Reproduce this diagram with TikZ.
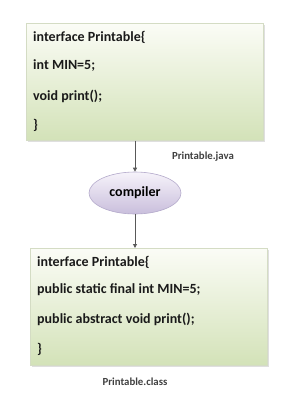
\documentclass[tikz,border=0pt]{standalone}
\usepackage{fontspec}
\setmainfont{Carlito}
\usetikzlibrary{shapes.geometric,arrows.meta,shadows}
\definecolor{gtop}{HTML}{FBFCF6}
\definecolor{gbot}{HTML}{D3E2B8}
\definecolor{gline}{HTML}{D4DCC4}
\definecolor{ptop}{HTML}{F6F3FA}
\definecolor{pbot}{HTML}{C9BEDC}
\definecolor{pline}{HTML}{B4AACB}
\definecolor{txt}{HTML}{1A1A1A}
\begin{document}
\begin{tikzpicture}[x=1pt,y=-1pt,
  codebox/.style={draw=gline,line width=0.6pt,top color=gtop,bottom color=gbot,
    drop shadow={shadow xshift=1.2pt,shadow yshift=-1.2pt,opacity=0.25}},
  codetext/.style={anchor=west,font=\bfseries\fontsize{14}{16}\selectfont,text=txt,inner sep=0pt},
  filelabel/.style={font=\bfseries\fontsize{10.8}{12}\selectfont,text=black!75,inner sep=0pt},
  oval/.style={ellipse,draw=pline,line width=0.6pt,top color=ptop,bottom color=pbot,
    minimum width=92pt,minimum height=42pt,inner sep=0pt,font=\bfseries\fontsize{14}{16}\selectfont},
  conn/.style={draw=black!65,line width=0.9pt,-{Triangle[length=4pt,width=4pt]}}]
\useasboundingbox (0,0) rectangle (292,399);
\fill[white] (0,0) rectangle (292,399);
% top box
\node[codebox,minimum width=237pt,minimum height=117pt,anchor=north west,inner sep=0pt] (src) at (26,23) {};
\node[codetext] (s1) at (33,37) {interface Printable\{};
\node[codetext] (s2) at (33,66) {int MIN=5;};
\node[codetext] (s3) at (33,96) {void print();};
\node[codetext] (s4) at (33,125) {\}};
\node[filelabel] (jlab) at (203,157) {Printable.java};
% compiler
\node[oval] (comp) at (135,193) {compiler};
% bottom box
\node[codebox,minimum width=237pt,minimum height=117pt,anchor=north west,inner sep=0pt] (cls) at (30,248) {};
\node[codetext] (c1) at (37,262) {interface Printable\{};
\node[codetext] (c2) at (37,290) {public static final int MIN=5;};
\node[codetext] (c3) at (37,319) {public abstract void print();};
\node[codetext] (c4) at (37,349) {\}};
\node[filelabel] (clab) at (135,382) {Printable.class};
% connectors
\draw[conn] (src.south -| comp.north) -- (comp.north);
\draw[conn] (comp.south) -- (comp.south |- cls.north);
\end{tikzpicture}
\end{document}
